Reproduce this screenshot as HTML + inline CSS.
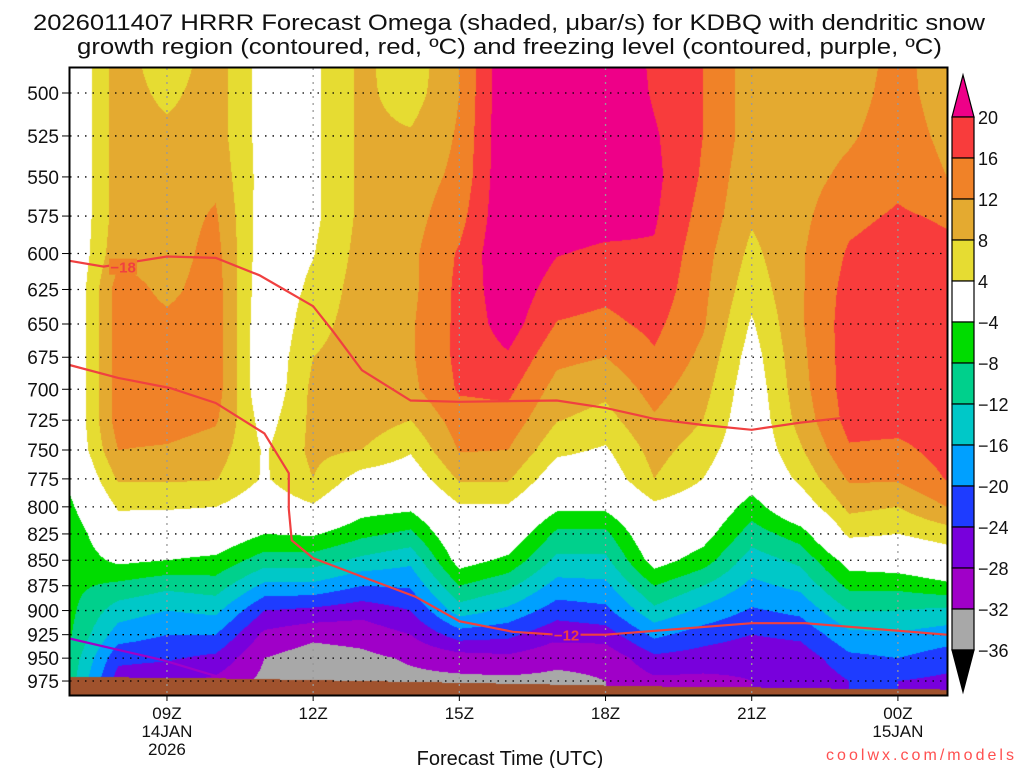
<!DOCTYPE html>
<html><head><meta charset="utf-8"><title>HRRR Omega KDBQ</title>
<style>
html,body{margin:0;padding:0;background:#fff;width:1024px;height:768px;overflow:hidden}
#wrap{position:relative;width:1024px;height:768px}
canvas,svg{position:absolute;left:0;top:0}
text{font-family:"Liberation Sans",sans-serif;fill:#111}
</style></head>
<body>
<div id="wrap">
<canvas id="cv" width="1024" height="768"></canvas>
<svg id="sv" width="1024" height="768" xmlns="http://www.w3.org/2000/svg"></svg>
</div>
<script>
// ---- data ----
const hours = [7,8,9,10,11,12,13,14,15,16,17,18,19,20,21,22,23,24,25];
const levels = [475,500,525,550,575,600,625,650,675,700,725,750,775,800,825,850,875,900,925,950,975,1000];
const omega = [
[-1,-1,-1,-1,-1,-1,-1,-1,-1,-1,-1,-1,-3,-5,-7,-7,-7,-7,-7.5,-9,-10,-10],
[10,10,10,10,10,11,14,14,14,14,14,12,8.5,4.5,1,-3,-9,-14,-18,-23,-26,-26],
[5,7,9,10,10,10,11,13,14,14,14,11.5,8.5,4.5,0,-4,-11,-16,-20,-23.5,-27,-27],
[10,10,10,11,12.5,13.5,14,14,14,14,12.5,10,8.2,4,0,-5,-10,-15,-20,-25,-29,-29],
[2,2,2,2,1.5,1,0.5,0,0,0,2,3.5,3.5,1,-4,-10,-17,-24,-29,-32,-33,-33],
[3,3,3,3,3,3.8,5,6.5,8,9,9,9,8,3.5,-3.5,-10,-17,-25,-31,-34,-35,-35],
[9,9,9,9,9,9.5,10,10,10,10,10,8,2,-2,-7,-13,-20,-26.5,-30.5,-33,-34,-34],
[5,6,8.5,10,10.5,11,11,11.5,11.5,11,8,4.5,1,-3,-9,-15,-19.5,-24,-28,-31.5,-33,-33],
[12,12,12.5,13,14.5,16.5,17,17,17,16.5,14,12.3,8.5,3.5,1,-2,-8,-14,-22,-30,-33,-33],
[24,24,24,24,24,24,23,22,19.5,17,14.5,12,8.5,3.5,0,-5,-11,-17,-23,-29,-33,-33],
[24,24,24,24,22,20.2,18,15.8,13,10.5,8.2,5,1,-3,-9,-13,-17.5,-22,-27,-31,-33,-33],
[24,24,24,24,21.5,19.3,17,15,12,9,6.5,3.5,1,-3,-9,-13,-17,-21,-26,-31,-32,-32],
[19,19.5,20.5,21,20.5,19.5,18.5,17,15.5,13.5,11.5,9.5,8,3,1,-2,-8,-13,-19,-25,-29,-29],
[16,16,16,15.5,14.5,13.5,13,12.5,11,9.5,8,6,4,1,-2,-6,-12,-17,-22,-26,-29,-29],
[10,10,10,9,8.5,7,5.5,3.5,2,1,0.5,0,-1.5,-6,-10,-14,-17,-20.5,-24,-27,-28,-28],
[10,10,10,10.5,11,11.5,11.5,11.5,11,10.5,9.5,7.5,5,1,-6,-11,-15,-19,-23,-26.5,-28,-28],
[10,10.5,11.5,13,15,16.5,17.5,18,18,18,17.5,15.5,12.5,9,5,-2,-7,-12,-17,-21,-24,-24],
[13,13.5,14,15,16.5,18,18.5,18.5,18.5,18.5,17.5,15,12.5,8,4,-1,-7,-12,-16.5,-20,-24,-24],
[10,10,11,12,15.5,17,17.5,18,18,18,18,17.5,16.2,12,6,1,-5,-13,-18,-22,-25,-25]
];
const surfacePressure = [970,971,971.5,972,973,974,975,976,977,978,979,980,981,981.5,982,983,983.5,984,984.5];
const contourMinus18 = [[7,605],[7.7,609],[9,602],[10,603],[10.9,615],[12,637],[12.4,655],[13,685],[14,709],[15,710],[17,709],[18,715],[19,724],[20,729],[21,733],[22,727],[22.9,723]];
const contourMinus12 = [[7,681],[8,691],[9.06,699],[10,711],[11,736],[11.5,770],[11.5,802],[11.56,831],[12,848],[13,866],[14.1,886],[15,911],[16.1,922],[17,925],[18,925],[21,913],[22.1,913],[25,925]];
const freezingLevel = [[7,929],[8.9,952],[10.1,971]];
const bandEdges = [20,16,12,8,4,-4,-8,-12,-16,-20,-24,-28,-32];
const bandLabels = ["20","16","12","8","4","\u22124","\u22128","\u221212","\u221216","\u221220","\u221224","\u221228","\u221232","\u221236"];
const yTickLevels = [500,525,550,575,600,625,650,675,700,725,750,775,800,825,850,875,900,925,950,975];
const xTickHours = [9,12,15,18,21,24];
const xTickLabels = ["09Z","12Z","15Z","18Z","21Z","00Z"];
const xTickDates = [["14JAN","2026"],[],[],[],[],["15JAN"]];

// ---- styling ----
const bandColors = ["#ee0088","#f83c3c","#f08228","#e4aa30","#e6dc32","#ffffff","#00dc00","#00d08c","#00c8c8","#00a0ff","#1e3cff","#7800dc","#a000c8","#a8a8a8"];
const PL=70, PR=947, PT=68, PB=695;
function xOf(h){return 69.5+(h-7)*48.73;}
function yOf(p){return 93+880.5*Math.log(p/500);}
function hOfX(x){return 7+(x-69.5)/48.73;}
function pOfY(y){return 500*Math.exp((y-93)/880.5);}
function colorIdx(v){for(let k=0;k<bandEdges.length;k++){if(v>=bandEdges[k])return k;}return bandEdges.length;}
function hex(c){return [parseInt(c.substr(1,2),16),parseInt(c.substr(3,2),16),parseInt(c.substr(5,2),16)];}
const rgb = bandColors.map(hex);
const brown=[160,82,45];

// ---- shading ----
const cv=document.getElementById('cv');const ctx=cv.getContext('2d');
const img=ctx.createImageData(PR-PL,PB-PT);
for(let y=PT;y<PB;y++){
  const p=pOfY(y+0.5);
  let j=(p-levels[0])/25; if(j<0)j=0; if(j>levels.length-1.001)j=levels.length-1.001;
  const j0=Math.floor(j), fy=j-j0;
  for(let x=PL;x<PR;x++){
    let h=hOfX(x+0.5)-hours[0]; if(h<0)h=0; if(h>hours.length-1.001)h=hours.length-1.001;
    const i0=Math.floor(h), fx=h-i0;
    const sfc=surfacePressure[i0]*(1-fx)+surfacePressure[i0+1]*fx;
    let c;
    if(p>sfc){c=brown;}
    else{
      const v=(omega[i0][j0]*(1-fx)+omega[i0+1][j0]*fx)*(1-fy)+(omega[i0][j0+1]*(1-fx)+omega[i0+1][j0+1]*fx)*fy;
      c=rgb[colorIdx(v)];
    }
    const o=((y-PT)*(PR-PL)+(x-PL))*4;
    img.data[o]=c[0];img.data[o+1]=c[1];img.data[o+2]=c[2];img.data[o+3]=255;
  }
}
ctx.putImageData(img,PL,PT);

// ---- overlay ----
const NS="http://www.w3.org/2000/svg";
const sv=document.getElementById('sv');
function mk(tag,attrs,parent){const e=document.createElementNS(NS,tag);for(const k in attrs)e.setAttribute(k,attrs[k]);(parent||sv).appendChild(e);return e;}

// gridlines
const grid=mk('g',{});


yTickLevels.forEach(p=>{
  const l=mk('line',{x1:PL,x2:PR,y1:yOf(p),y2:yOf(p),stroke:'#000','stroke-width':1.3,'stroke-dasharray':'1.5,6'},grid);
  
  
});
xTickHours.forEach(h=>{
  const l=mk('line',{x1:xOf(h),x2:xOf(h),y1:PT,y2:PB,stroke:'#999','stroke-width':1.3,'stroke-dasharray':'2,5'},grid);
  
  
});

// contours
function pts(arr){return arr.map(a=>xOf(a[0]).toFixed(1)+','+yOf(a[1]).toFixed(1)).join(' ');}
const c18=mk('polyline',{points:pts(contourMinus18),fill:'none',stroke:'#f04040','stroke-width':2.2});


const c12=mk('polyline',{points:pts(contourMinus12),fill:'none',stroke:'#f04040','stroke-width':2.2});


const fz=mk('polyline',{points:pts(freezingLevel),fill:'none',stroke:'#a000c8','stroke-width':2.2});


// contour labels
function clabel(txt,h,p,name,bg){
  const x=xOf(h),y=yOf(p);
  mk('rect',{x:x-14,y:y-8,width:28,height:16,fill:bg});
  const t=mk('text',{x:x,y:y+6,'text-anchor':'middle','font-size':15,'font-weight':'bold',style:'fill:#f04040'});
  t.textContent=txt;
  
  
}
clabel('\u221218',8.1,609,'label-minus18','#f08228');
clabel('\u221212',17.2,925,'label-minus12','#7800dc');

// frame
const fr=mk('rect',{x:PL-0.5,y:PT-0.5,width:PR-PL+1,height:PB-PT+1,fill:'none',stroke:'#000','stroke-width':2});



// y axis
yTickLevels.forEach(p=>{
  mk('line',{x1:PL-8,x2:PL,y1:yOf(p),y2:yOf(p),stroke:'#000','stroke-width':1});
  const t=mk('text',{x:59,y:yOf(p)+7,'text-anchor':'end','font-size':19});
  t.textContent=String(p);
  
  
});
// x axis
xTickHours.forEach((h,i)=>{
  mk('line',{x1:xOf(h),x2:xOf(h),y1:PB,y2:PB+6,stroke:'#000','stroke-width':1});
  const t=mk('text',{x:xOf(h),y:719,'text-anchor':'middle','font-size':17});
  t.textContent=xTickLabels[i];
  
  
  xTickDates[i].forEach((d,k)=>{
    const u=mk('text',{x:xOf(h),y:737+k*18,'text-anchor':'middle','font-size':17});
    u.textContent=d;
    
    
  });
});
const xt=mk('text',{x:510,y:765,'text-anchor':'middle','font-size':20});
xt.textContent='Forecast Time (UTC)';


const cr=mk('text',{x:826,y:760,'font-size':16,textLength:188,style:'fill:#ff5050'});
cr.textContent='coolwx.com/models';



// title
const t1=mk('text',{x:33,y:30,'font-size':22,textLength:952,lengthAdjust:'spacingAndGlyphs'});
t1.textContent='2026011407 HRRR Forecast Omega (shaded, \u03bcbar/s) for KDBQ with dendritic snow';


const t2=mk('text',{x:77,y:54,'font-size':22,textLength:865,lengthAdjust:'spacingAndGlyphs'});
t2.textContent='growth region (contoured, red, \u00baC) and freezing level (contoured, purple, \u00baC)';



// colorbar
const cb=mk('g',{});


const CX=952,CW=22,CT=117,CH=41;
const up=mk('polygon',{points:`${CX},${CT} ${CX+CW},${CT} ${CX+CW/2},${CT-42}`,fill:bandColors[0],stroke:'#000','stroke-width':1.2},cb);


for(let k=1;k<bandColors.length;k++){
  const r=mk('rect',{x:CX,y:CT+(k-1)*CH,width:CW,height:CH,fill:bandColors[k],stroke:'#000','stroke-width':1.2},cb);
  
  
}
const nb=bandColors.length-1;
const dn=mk('polygon',{points:`${CX},${CT+nb*CH} ${CX+CW},${CT+nb*CH} ${CX+CW/2},${CT+nb*CH+42}`,fill:'#000',stroke:'#000','stroke-width':1.2},cb);


bandLabels.forEach((s,k)=>{
  const t=mk('text',{x:978,y:CT+k*CH+7,'font-size':18},cb);
  t.textContent=s;
  
  
});
</script>
</body></html>
